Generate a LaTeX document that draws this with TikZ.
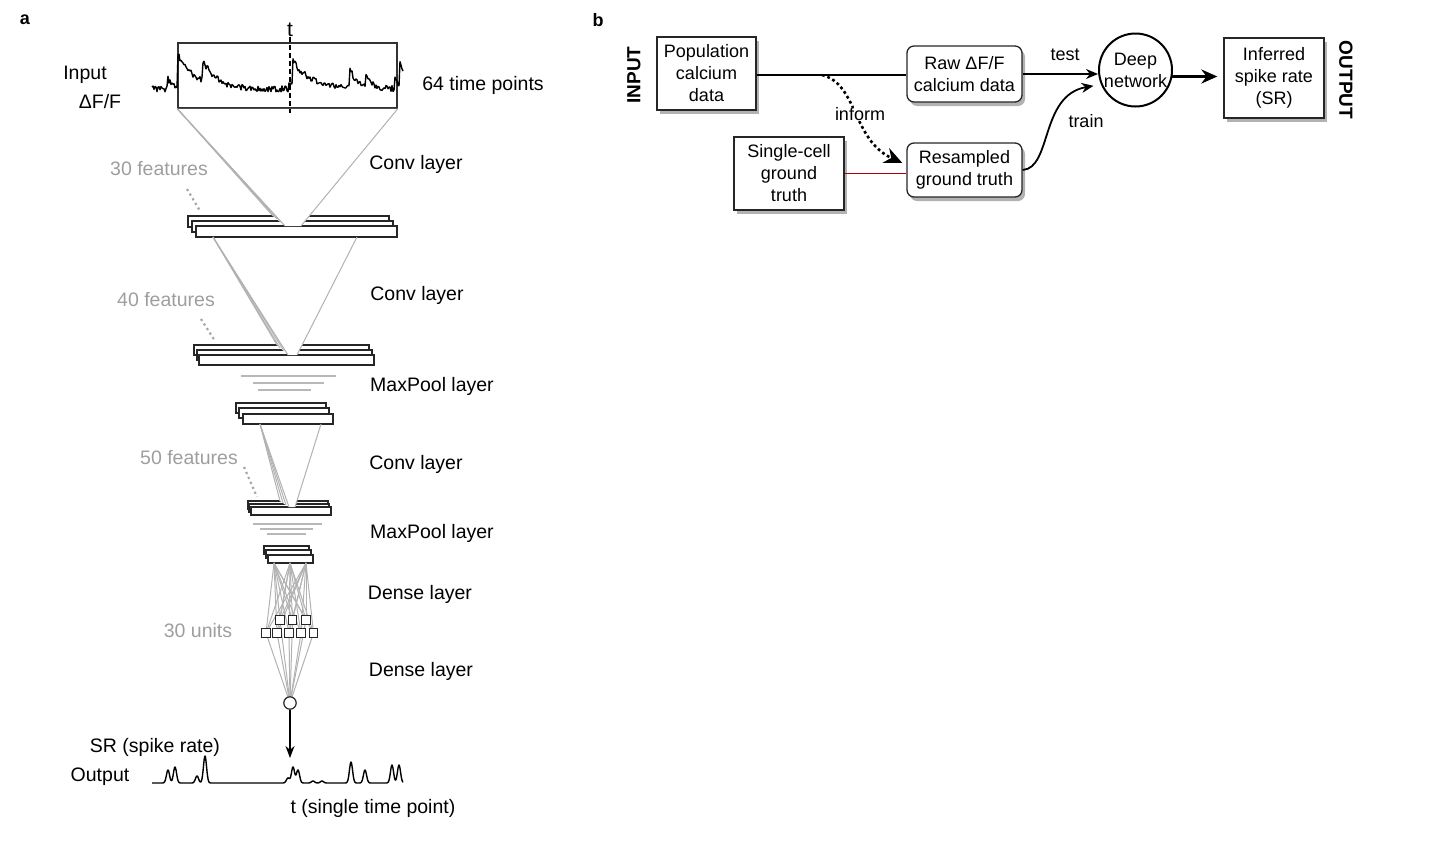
\documentclass[tikz,border=0pt]{standalone}
\usepackage{fontspec}
\setmainfont{Liberation Sans}
\usetikzlibrary{arrows.meta, shadows}

\tikzset{
  lbl/.style={inner sep=0pt, font=\fontsize{9.75}{11.7}\selectfont},
  glbl/.style={lbl, text=black!38},
  tag/.style={inner sep=0pt, font=\fontsize{9}{11}\selectfont\bfseries},
  fmap/.style={draw=black!85, fill=white, line width=0.6pt},
  wire/.style={draw=black!30, line width=0.5pt},
  pool/.style={draw=black!28, line width=0.6pt},
  unit/.style={draw=black!85, fill=white, minimum size=4.3pt, inner sep=0pt, line width=0.65pt},
  trace/.style={line width=0.7pt, line join=round},
  datbox/.style={draw=black!85, fill=white, align=center, inner sep=0pt, line width=0.65pt,
    font=\fontsize{9}{11}\selectfont,
    drop shadow={shadow xshift=1.5pt, shadow yshift=-2pt, opacity=0.3, fill=black}},
  rndbox/.style={datbox, rounded corners=3.5pt},
  flow/.style={line width=0.9pt, -{Stealth[length=6pt, width=5pt]}},
}

\begin{document}
\begin{tikzpicture}[x=0.5pt, y=-0.5pt,
  declare function={
    ev(\xs,\xo,\ha,\tc)=(\xs>\xo)*\ha*exp(-min(max(\xs-\xo,0)/\tc,9));
    sp(\xs,\xo,\ha)=\ha*exp(-pow(min(abs(\xs-\xo)/2.2,3),2));
  }]
\useasboundingbox (0,0) rectangle (1431,852);

% ---- panel a ----
\node[tag] (taga) at (25,20) {a};

% feature maps
\foreach \dx/\dy in {0/0,4/5,8/10}
  \draw[fmap] (188+\dx,216+\dy) rectangle ++(201,11);
\foreach \dx/\dy in {0/0,3/5,5/10}
  \draw[fmap] (194+\dx,345+\dy) rectangle ++(175,10);
\foreach \dx/\dy in {0/0,3/5,7/11}
  \draw[fmap] (236+\dx,403+\dy) rectangle ++(90,10);
\foreach \dx/\dy in {0/0,1/3,3/6}
  \draw[fmap] (248+\dx,501+\dy) rectangle ++(80,8);
\foreach \dx/\dy in {0/0,2/4,4/9}
  \draw[fmap] (264+\dx,546+\dy) rectangle ++(45,8);

\node[draw=black!80, line width=0.75pt, minimum width=109.5pt, minimum height=32.5pt, inner sep=0pt] (inbox) at (287.5,75.5) {};

% conv fans
\fill[white] (inbox.south west) -- (273,216) -- (285,226) -- (301,226) -- (inbox.south east) -- cycle;
\foreach \ex/\ey in {273/216, 277/219, 281/222, 285/226}
  \draw[wire] (inbox.south west) -- (\ex,\ey);
\draw[wire] (inbox.south east) -- (301,226);

\fill[white] (213,238) -- (277,345) -- (288,355) -- (297,355) -- (357,238) -- cycle;
\foreach \ex/\ey in {277/345, 280/348, 284/351, 288/355}
  \draw[wire] (213,237) -- (\ex,\ey);
\draw[wire] (357,237) -- (297,355);

\fill[white] (260,425) -- (280,501) -- (289,507) -- (295,507) -- (321,425) -- cycle;
\foreach \ex/\ey in {280/501, 283/503, 286/505, 289/507}
  \draw[wire] (260,424) -- (\ex,\ey);
\draw[wire] (321,424) -- (295,507);

% max pooling
\draw[pool] (241,376) -- (336,376);
\draw[pool] (253,383) -- (324,383);
\draw[pool] (258,390) -- (311,390);
\draw[pool] (253,524) -- (322,524);
\draw[pool] (260,529) -- (313,529);
\draw[pool] (267,534) -- (306,534);

% dense units
\foreach \ux/\uy [count=\i] in {280/620, 292.5/620, 306/620, 266/633, 277/633, 289/633, 301/633, 313.5/633}
  \coordinate (u\i) at (\ux,\uy);
\coordinate (sr) at (290,703);
\foreach \i in {1,...,8} {
  \foreach \sx in {274,290,306}
    \draw[wire] (\sx,563) -- (u\i);
  \draw[wire] (u\i) -- (sr);
}
\foreach \i in {1,...,8}
  \node[unit] (n\i) at (u\i) {};
\node[circle, draw=black!85, fill=white, line width=0.6pt, minimum size=6.2pt, inner sep=0pt] (srnode) at (sr) {};

\coordinate (tpt) at (290,758);
\draw[line width=0.7pt, -{Stealth[length=6pt, width=4.5pt]}] (srnode.south) -- (tpt);

% dotted stack hints
\draw[black!35, line width=1.1pt, dash pattern=on 1.1pt off 1.6pt] (187,189) -- (200,211);
\draw[black!35, line width=1.1pt, dash pattern=on 1.1pt off 1.6pt] (201,319) -- (215,341);
\draw[black!35, line width=1.1pt, dash pattern=on 1.1pt off 1.6pt] (244,467) -- (257,497);

% input trace
\pgfmathsetseed{17}
\draw[trace] plot[domain=152:403, samples=252]
  (\x, {89 - ev(\x,167,13,4) - ev(\x,177,36,18) - ev(\x,202,22,12) - ev(\x,288,9,3)
        - ev(\x,292,28,20) - ev(\x,349,20,8) - ev(\x,365,12,6) - ev(\x,394,15,3)
        - ev(\x,399,27,8) + 3*rand});
\draw[line width=0.7pt, dash pattern=on 2.5pt off 1.5pt] (290,37) -- (290,113);

% output trace
\draw[trace] plot[domain=152:403, samples=502]
  (\x, {783 - sp(\x,168,13) - sp(\x,175,16) - sp(\x,197,7) - sp(\x,205,27)
        - sp(\x,288,5) - sp(\x,293,16) - sp(\x,298,13) - sp(\x,313,2) - sp(\x,322,2)
        - sp(\x,351,21) - sp(\x,365,13) - sp(\x,392,18) - sp(\x,399,18)});

% labels
\node[lbl, font=\fontsize{10.5}{12}\selectfont] (tlbl) at (290,30) {t};
\node[lbl] (inlbl) at (85,75) {Input};
\node[lbl] (dff) at (100,102) {ΔF/F};
\node[lbl] (tpts) at (483,85) {64 time points};
\node[glbl] (f30) at (159,169) {30 features};
\node[lbl] (conv1) at (416,164) {Conv layer};
\node[glbl] (f40) at (166,300) {40 features};
\node[lbl] (conv2) at (417,295) {Conv layer};
\node[lbl] (pool1) at (432,386) {MaxPool layer};
\node[glbl] (f50) at (189,458) {50 features};
\node[lbl] (conv3) at (416,464) {Conv layer};
\node[lbl] (pool2) at (432,533) {MaxPool layer};
\node[lbl] (dense1) at (420,594) {Dense layer};
\node[glbl] (u30) at (198,631) {30 units};
\node[lbl] (dense2) at (421,671) {Dense layer};
\node[lbl] (srlbl) at (155,747) {SR (spike rate)};
\node[lbl] (outlbl) at (100,777) {Output};
\node[lbl] (single) at (373,808) {t (single time point)};

% ---- panel b ----
\node[tag] (tagb) at (598,20) {b};
\node[tag, font=\fontsize{9.5}{11}\selectfont\bfseries, rotate=90] (inp) at (634,75) {INPUT};
\node[tag, font=\fontsize{9.5}{11}\selectfont\bfseries, rotate=-90] (outp) at (1346,80) {OUTPUT};

\node[datbox, minimum width=49.5pt, minimum height=36.5pt] (pop) at (706.5,73.5) {Population\\calcium\\data};
\node[rndbox, minimum width=57.5pt, minimum height=28pt] (raw) at (964.5,74) {Raw ΔF/F\\calcium data};
\node[datbox, minimum width=55pt, minimum height=36.5pt] (sc) at (789,173.5) {Single-cell\\ground\\truth};
\node[rndbox, minimum width=57.5pt, minimum height=27pt] (rs) at (964.5,170) {Resampled\\ground truth};
\node[circle, draw, line width=1pt, fill=white, minimum size=36.5pt, inner sep=0pt, align=center,
      font=\fontsize{9}{11}\selectfont] (dn) at (1135.5,70) {Deep\\network};
\node[datbox, minimum width=50pt, minimum height=40pt] (inf) at (1274,78) {Inferred\\spike rate\\(SR)};

\coordinate (fork) at (822,75);
\draw[line width=0.9pt] (pop.east |- fork) -- (fork -| raw.west);
\draw[line width=0.6pt, red!70!black] (sc.east) -- (sc.east -| rs.west);
\draw[line width=1.3pt, dash pattern=on 1.4pt off 1.4pt, -{Stealth[length=9pt, width=8pt]}]
  (fork) .. controls (858,84) and (852,140) .. ([xshift=-2pt, yshift=3.5pt]rs.west);
\node[inner sep=0pt, fill=white, inner xsep=2pt, font=\fontsize{9}{11}\selectfont] (inform) at (860,114) {inform};

\draw[flow] (raw.east) -- (raw.east -| dn.west);
\draw[flow] (rs.east) .. controls (1052,168) and (1040,95) .. ([xshift=-4pt]dn.205);
\draw[line width=1.8pt, -{Stealth[length=8pt, width=7pt]}, shorten >=3pt] (dn.-10) -- (dn.-10 -| inf.west);
\node[inner sep=0pt, font=\fontsize{9}{11}\selectfont] (test) at (1065,55) {test};
\node[inner sep=0pt, font=\fontsize{9}{11}\selectfont] (train) at (1086,121) {train};
\end{tikzpicture}
\end{document}
